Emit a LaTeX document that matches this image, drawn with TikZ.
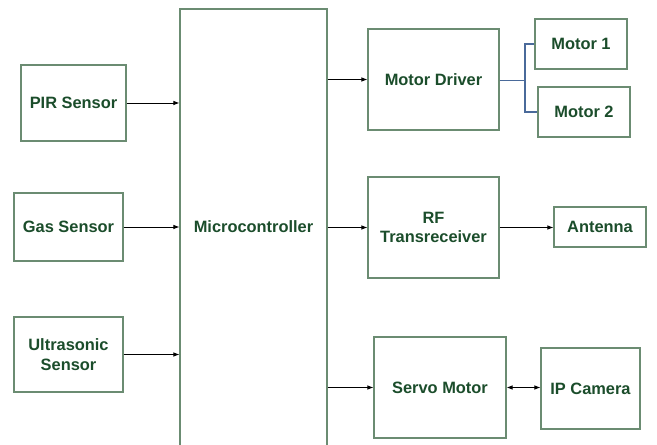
\documentclass[tikz,border=0pt]{standalone}
\usepackage{fontspec}
\setmainfont{Liberation Sans}
\usetikzlibrary{arrows.meta}
\definecolor{boxline}{HTML}{6B8C72}
\definecolor{boxtext}{HTML}{1B4D2B}
\definecolor{linkblue}{HTML}{4A6A9A}
\tikzset{
  blk/.style={draw=boxline, line width=0.9pt, fill=white, text=boxtext,
    font=\bfseries\fontsize{12.3}{14.5}\selectfont, align=center, inner sep=0pt},
  arr/.style={-{Latex[length=4.5pt,width=3.5pt]}, line width=0.7pt, black},
  darr/.style={{Latex[length=4.5pt,width=3.5pt]}-{Latex[length=4.5pt,width=3.5pt]}, line width=0.7pt, black},
  lnk/.style={line width=0.8pt, draw=linkblue}
}
\begin{document}
\begin{tikzpicture}[x=0.75pt,y=-0.75pt]
\useasboundingbox (0,0) rectangle (657,445);
\node[blk, minimum width=78.75pt, minimum height=57pt] (pir) at (73.5,103) {PIR Sensor};
\node[blk, minimum width=81.75pt, minimum height=51pt] (gas) at (68.5,227) {Gas Sensor};
\node[blk, minimum width=81.75pt, minimum height=56.25pt] (ultra) at (68.5,354.5) {Ultrasonic\\Sensor};
\node[blk, minimum width=110.25pt, minimum height=328.5pt] (micro) at (253.5,228) {};
\node[text=boxtext, font=\bfseries\fontsize{12.3}{14.5}\selectfont] (microlbl) at (253.5,227) {Microcontroller};
\node[blk, minimum width=98.25pt, minimum height=75.75pt] (md) at (433.5,79.5) {Motor Driver};
\node[blk, minimum width=69pt, minimum height=37.5pt] (m1) at (581,44) {Motor 1};
\node[blk, minimum width=69pt, minimum height=37.5pt] (m2) at (584,112) {Motor 2};
\node[blk, minimum width=98.25pt, minimum height=75.75pt] (rf) at (433.5,227.5) {RF\\Transreceiver};
\node[blk, minimum width=69pt, minimum height=30pt] (ant) at (600,227) {Antenna};
\node[blk, minimum width=99pt, minimum height=75.75pt] (servo) at (440,387.5) {Servo Motor};
\node[blk, minimum width=74.25pt, minimum height=60.75pt] (cam) at (590.5,388.5) {IP Camera};
\coordinate (j) at (525,80.5);
% sensor inputs
\draw[arr] (pir.east) -- (pir.east -| micro.west);
\draw[arr] (gas.east) -- (gas.east -| micro.west);
\draw[arr] (ultra.east) -- (ultra.east -| micro.west);
% outputs
\draw[arr] (md.west -| micro.east) -- (md.west);
\draw[arr] (rf.west -| micro.east) -- (rf.west);
\draw[arr] (servo.west -| micro.east) -- (servo.west);
\draw[arr] (rf.east) -- (rf.east -| ant.west);
\draw[darr] (servo.east) -- (servo.east -| cam.west);
% motor links
\draw[lnk] (md.east |- j) -- (j);
\draw[lnk] (m1.west) -| (j) |- (m2.west);
\end{tikzpicture}
\end{document}
